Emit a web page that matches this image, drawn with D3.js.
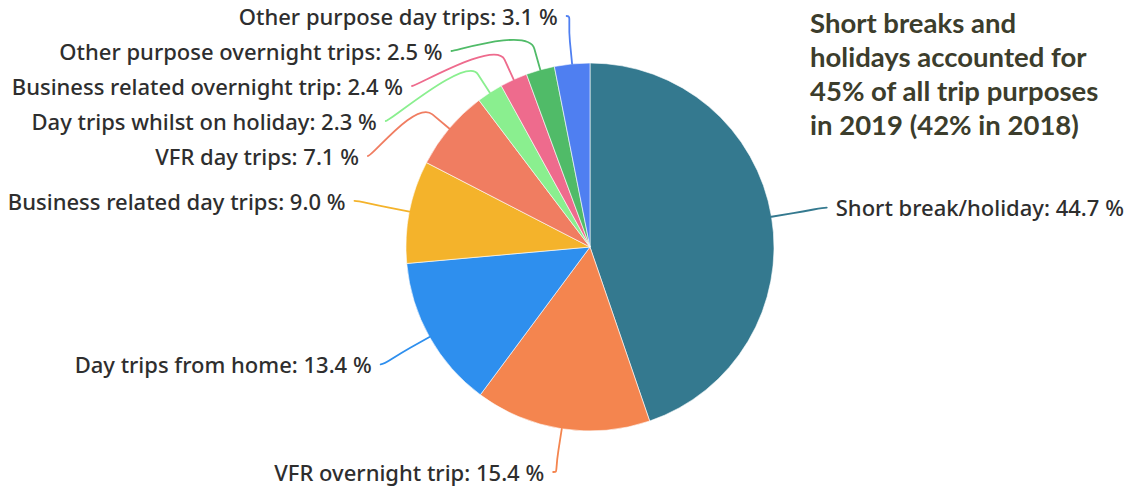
<!DOCTYPE html>
<html><head><meta charset="utf-8">
<script src="https://cdn.jsdelivr.net/npm/d3@7"></script>
<style>
html,body{margin:0;padding:0;background:#fff;overflow:hidden;}
</style></head><body>
<svg id="chart" width="1139" height="494"></svg>
<script>
const categories = ["Short break/holiday","VFR overnight trip","Day trips from home","Business related day trips","VFR day trips","Day trips whilst on holiday","Business related overnight trip","Other purpose overnight trips","Other purpose day trips"];
const values = [44.7, 15.4, 13.4, 9.0, 7.1, 2.3, 2.4, 2.5, 3.1];
const colors = ["#34798f","#f4854f","#2e8fee","#f4b32b","#f07d61","#8aef8f","#ee6b8d","#50bb68","#4f7ff1"];
const titleLines = ["Short breaks and","holidays accounted for","45% of all trip purposes","in 2019 (42% in 2018)"];

const W = 1139, H = 494;
const cx = 590, cy = 247, r = 184, labelDist = 56, breakDist = 22;
const svg = d3.select("#chart");
const data = categories.map((c, i) => ({name: c, value: values[i], color: colors[i]}));
const arcs = d3.pie().sort(null).value(d => d.value)(data);
const arc = d3.arc().innerRadius(0).outerRadius(r);
const g = svg.append("g").attr("transform", `translate(${cx},${cy})`);
g.selectAll("path.slice").data(arcs).join("path").attr("class","slice")
  .attr("d", arc).attr("fill", d => d.data.color)
  .attr("stroke", "#fff").attr("stroke-width", 0.6).attr("stroke-linejoin","round");

// label layout
const R = r + labelDist;
const pt = (a, rad) => [Math.sin(a) * rad, -Math.cos(a) * rad];
const labels = arcs.map(d => {
  const a = (d.startAngle + d.endAngle) / 2;
  const [nx, ny] = pt(a, R);
  return {d, a, nx, ny, left: a > Math.PI, y: ny};
});
const spacing = 35, topY = 16 - cy, botY = 472 - cy;
[true, false].forEach(side => {
  const L = labels.filter(l => l.left === side).sort((p, q) => p.ny - q.ny);
  L.forEach(l => { l.y = Math.max(topY, Math.min(botY, l.ny)); });
  for (let i = 1; i < L.length; i++) if (L[i].y < L[i-1].y + spacing) L[i].y = L[i-1].y + spacing;
  for (let i = L.length - 1; i >= 0; i--) {
    const lim = i === L.length - 1 ? botY : L[i+1].y - spacing;
    if (L[i].y > lim) L[i].y = lim;
  }
  L.forEach(l => {
    const atBound = (l.y === topY || l.y === botY);
    if (atBound) l.x = l.nx;
    else {
      const dy = Math.max(-R, Math.min(R, l.y));
      l.x = (l.left ? -1 : 1) * Math.sqrt(R * R - dy * dy);
    }
  });
});

const conn = g.append("g");
labels.forEach(l => {
  const b = pt(l.a, r + breakDist), t = pt(l.a, r);
  const p = d3.path();
  p.moveTo(l.x, l.y);
  p.bezierCurveTo(l.x + (l.left ? 5 : -5), l.y, 2 * b[0] - t[0], 2 * b[1] - t[1], b[0], b[1]);
  p.lineTo(t[0], t[1]);
  conn.append("path").attr("d", p.toString()).attr("fill", "none")
    .attr("stroke", l.d.data.color).attr("stroke-width", 1.8).attr("stroke-linecap","round");
  g.append("text")
    .attr("x", l.x + (l.left ? -9 : 9)).attr("y", l.y).attr("dy", "0.4em")
    .attr("text-anchor", l.left ? "end" : "start")
    .attr("font-family", "'Noto Sans', sans-serif").attr("font-size", 22)
    .attr("font-weight", 500)
    .attr("fill", "#2e2e2e")
    .text(`${l.d.data.name}: ${d3.format(".1f")(l.d.data.value)} %`);
});

// title
const title = svg.append("text").attr("font-family", "Lato, sans-serif").attr("font-weight", 700)
  .attr("font-size", 27.5).attr("fill", "#3c3d2c");
titleLines.forEach((t, i) => title.append("tspan").attr("x", 810).attr("y", 33 + i * 34).text(t));
</script>
</body></html>
